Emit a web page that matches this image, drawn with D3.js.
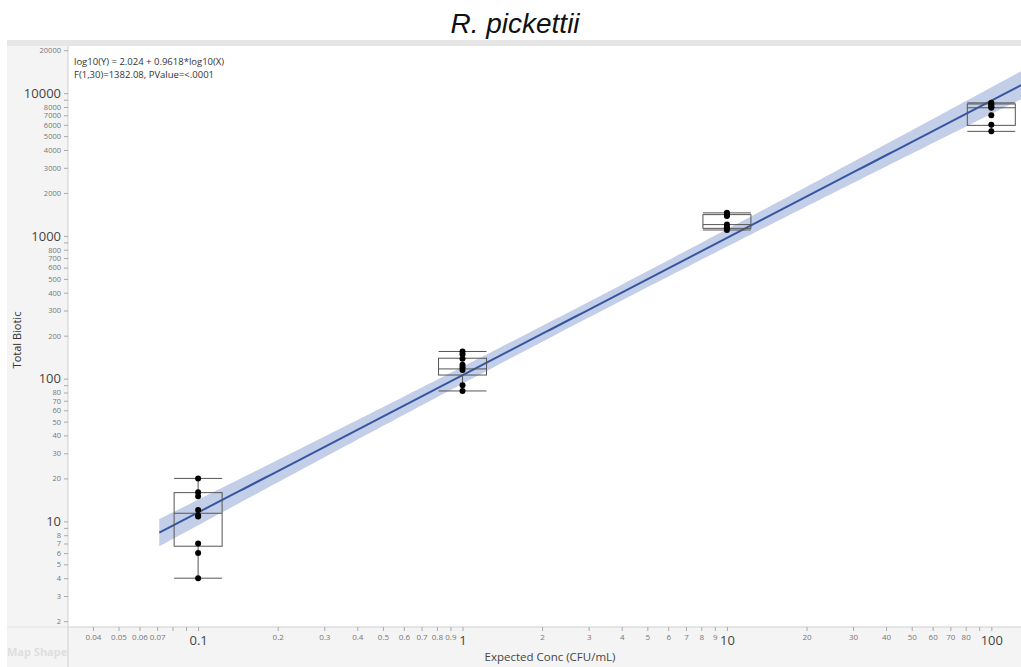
<!DOCTYPE html>
<html>
<head>
<meta charset="utf-8">
<script src="https://cdn.jsdelivr.net/npm/d3@7"></script>
<style>
  body { margin: 0; background: #fff; }
  svg { display: block; }
</style>
</head>
<body>
<div class="chart"></div>
<script>
// concentration groups (x) and the raw counts
let groups = [0.1, 1, 10, 100];
let pts01 = [20, 16, 15, 12, 11, 10.8, 7, 6, 4];
let pts1 = [155, 148, 138, 125, 120, 115, 90, 82];
let pts10 = [1450, 1420, 1400, 1380, 1200, 1150, 1130, 1100];
let pts100 = [8550, 8400, 8200, 8000, 7900, 7000, 6000, 5400];
let allPts = [pts01, pts1, pts10, pts100];

// box plot summaries
let q1s = [6.7, 106, 1130, 5950];
let medians = [11.4, 117, 1200, 7900];
let q3s = [15.9, 139, 1410, 8400];
let whiskLo = [4, 82, 1100, 5400];
let whiskHi = [20, 155, 1450, 8550];

// fit from the printed equation
let intercept = 2.024, slope = 0.9618;
let fitStart = 0.0713;

// tick labels
let xMajor = [0.1, 1, 10, 100];
let xMinor = [0.04, 0.05, 0.06, 0.07, 0.2, 0.3, 0.4, 0.5, 0.6, 0.7, 0.8, 0.9, 2, 3, 4, 5, 6, 7, 8, 9, 20, 30, 40, 50, 60, 70, 80];
let xBare = [0.08, 0.09, 90];
let yMajor = [10, 100, 1000, 10000];
let yMinor = [2, 3, 4, 5, 6, 7, 8, 20, 30, 40, 50, 60, 70, 80, 200, 300, 400, 500, 600, 700, 800, 2000, 3000, 4000, 5000, 6000, 7000, 8000, 20000];
let yBare = [9, 90, 900, 9000];

let W = 1021, H = 667;
let plot = { left: 68, right: 1021, top: 46, bottom: 627 };

let svg = d3.select('.chart').append('svg')
    .attr('width', W).attr('height', H);

// frame panels
svg.append('rect').attr('x', 7).attr('y', 40).attr('width', plot.left - 7).attr('height', H - 40).attr('fill', '#f4f4f4');
svg.append('rect').attr('x', plot.left).attr('y', plot.bottom).attr('width', W - plot.left).attr('height', H - plot.bottom).attr('fill', '#f4f4f4');
svg.append('rect').attr('x', 7).attr('y', 40).attr('width', W - 7).attr('height', 6).attr('fill', '#e6e6e6');
svg.append('line').attr('x1', 7).attr('x2', plot.left).attr('y1', plot.bottom).attr('y2', plot.bottom).attr('stroke', '#e2e2e2');

// title
svg.append('text')
    .attr('x', 515).attr('y', 33)
    .attr('text-anchor', 'middle')
    .style('font-family', 'Liberation Sans, Arial, sans-serif')
    .style('font-style', 'italic')
    .style('font-size', '28px')
    .attr('fill', '#111')
    .text('R. pickettii');

// scales
let x = d3.scaleLog().domain([0.0322, 129.5]).range([plot.left, plot.right]);
let y = d3.scaleLog().domain([1.82, 21400]).range([plot.bottom, plot.top]);

let font = 'Segoe UI, Open Sans, Noto Sans, sans-serif';

// regression confidence band computed from the points
let obs = [];
allPts.forEach((arr, i) => arr.forEach(v => obs.push([Math.log10(groups[i]), Math.log10(v)])));
let n = obs.length;
let mx = d3.mean(obs, d => d[0]);
let sxx = d3.sum(obs, d => (d[0] - mx) * (d[0] - mx));
let sse = d3.sum(obs, d => Math.pow(d[1] - (intercept + slope * d[0]), 2));
let s = Math.sqrt(sse / (n - 2));
let tcrit = 2.042;
let lxs = d3.range(Math.log10(fitStart), Math.log10(129.5) + 0.001, 0.02);
let band = lxs.map(lx => {
    let fit = intercept + slope * lx;
    let h = tcrit * s * Math.sqrt(1 / n + (lx - mx) * (lx - mx) / sxx);
    return { x: Math.pow(10, lx), lo: Math.pow(10, fit - h), hi: Math.pow(10, fit + h), fit: Math.pow(10, fit) };
});

svg.append('clipPath').attr('id', 'plotclip')
    .append('rect').attr('x', plot.left).attr('y', plot.top)
    .attr('width', plot.right - plot.left).attr('height', plot.bottom - plot.top);

let g = svg.append('g').attr('clip-path', 'url(#plotclip)');

g.append('path')
    .datum(band)
    .attr('d', d3.area().x(d => x(d.x)).y0(d => y(d.lo)).y1(d => y(d.hi)))
    .attr('fill', '#c3cfe8');

g.append('path')
    .datum(band)
    .attr('d', d3.line().x(d => x(d.x)).y(d => y(d.fit)))
    .attr('fill', 'none')
    .attr('stroke', '#3556a0')
    .attr('stroke-width', 2);

// box plots
let halfW = 24;
groups.forEach((gv, i) => {
    let cx = x(gv);
    let bx = g.append('g').attr('stroke', '#555').attr('stroke-width', 1).attr('fill', 'none');
    bx.append('line').attr('x1', cx).attr('x2', cx).attr('y1', y(whiskHi[i])).attr('y2', y(q3s[i]));
    bx.append('line').attr('x1', cx).attr('x2', cx).attr('y1', y(q1s[i])).attr('y2', y(whiskLo[i]));
    bx.append('line').attr('x1', cx - halfW).attr('x2', cx + halfW).attr('y1', y(whiskHi[i])).attr('y2', y(whiskHi[i]));
    bx.append('line').attr('x1', cx - halfW).attr('x2', cx + halfW).attr('y1', y(whiskLo[i])).attr('y2', y(whiskLo[i]));
    bx.append('rect').attr('x', cx - halfW).attr('width', halfW * 2)
        .attr('y', y(q3s[i])).attr('height', y(q1s[i]) - y(q3s[i]));
    bx.append('line').attr('x1', cx - halfW).attr('x2', cx + halfW).attr('y1', y(medians[i])).attr('y2', y(medians[i]));

    g.selectAll(null)
        .data(allPts[i])
        .enter().append('circle')
        .attr('cx', cx)
        .attr('cy', d => y(d))
        .attr('r', 3)
        .attr('fill', '#000');
});

// axis lines
svg.append('line').attr('x1', plot.left).attr('x2', plot.left).attr('y1', plot.top).attr('y2', H).attr('stroke', '#cfcfcf');
svg.append('line').attr('x1', plot.left).attr('x2', W).attr('y1', plot.bottom).attr('y2', plot.bottom).attr('stroke', '#cfcfcf');

// y axis
function yTicks(vals, size, color, label) {
    let ax = d3.axisLeft(y).tickValues(vals).tickSize(4).tickPadding(3)
        .tickFormat(label ? d3.format('') : '');
    let a = svg.append('g').attr('transform', 'translate(' + plot.left + ',0)').call(ax);
    a.select('.domain').remove();
    a.selectAll('line').attr('stroke', '#aaa');
    a.selectAll('text').style('font-family', font).style('font-size', size).attr('fill', color);
}
yTicks(yMinor, '7.5px', '#777', true);
yTicks(yBare, '7.5px', '#777', false);
yTicks(yMajor, '13px', '#444', true);

// x axis
function xTicks(vals, size, color, label, pad) {
    let ax = d3.axisBottom(x).tickValues(vals).tickSize(4).tickPadding(pad)
        .tickFormat(label ? d3.format('') : '');
    let a = svg.append('g').attr('transform', 'translate(0,' + plot.bottom + ')').call(ax);
    a.select('.domain').remove();
    a.selectAll('line').attr('stroke', '#aaa');
    a.selectAll('text').style('font-family', font).style('font-size', size).attr('fill', color);
}
xTicks(xMinor, '8px', '#777', true, 3);
xTicks(xBare, '8px', '#777', false, 3);
xTicks(xMajor, '13px', '#444', true, 5);

// axis titles
svg.append('text')
    .attr('transform', 'translate(21,' + 340 + ')rotate(-90)')
    .attr('text-anchor', 'middle')
    .style('font-family', font).style('font-size', '11px')
    .attr('fill', '#333')
    .text('Total Biotic');

svg.append('text')
    .attr('x', 550).attr('y', 661)
    .attr('text-anchor', 'middle')
    .style('font-family', font).style('font-size', '11.5px')
    .attr('fill', '#444')
    .text('Expected Conc (CFU/mL)');

svg.append('text')
    .attr('x', 7).attr('y', 656)
    .style('font-family', font).style('font-size', '11px').style('font-weight', 'bold')
    .attr('fill', '#dedede')
    .text('Map Shape');

// fit annotation
svg.append('text')
    .attr('x', 74).attr('y', 65)
    .style('font-family', font).style('font-size', '9.5px')
    .attr('fill', '#333')
    .text('log10(Y) = 2.024 + 0.9618*log10(X)');
svg.append('text')
    .attr('x', 74).attr('y', 78)
    .style('font-family', font).style('font-size', '9.5px')
    .attr('fill', '#333')
    .text('F(1,30)=1382.08, PValue=<.0001');
</script>
</body>
</html>
